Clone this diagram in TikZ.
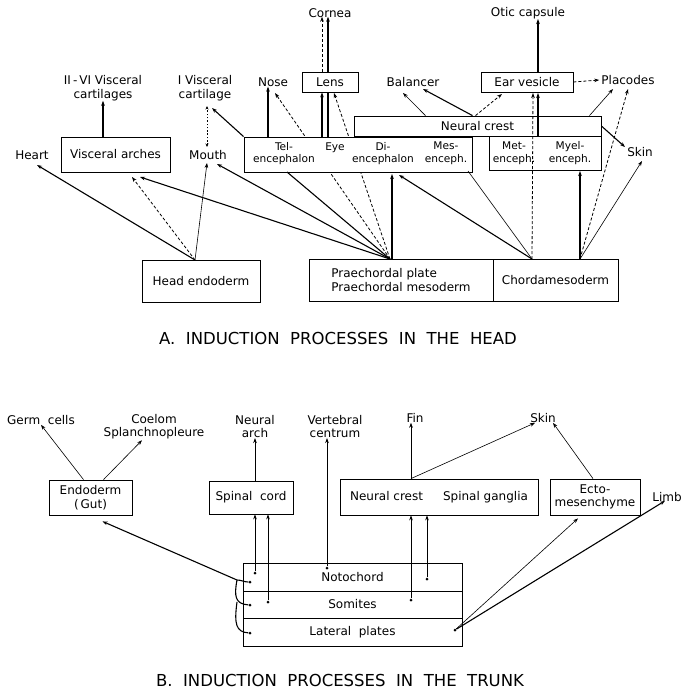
\documentclass[tikz,border=0pt]{standalone}
\usepackage{fontspec}
\setmainfont{DejaVu Sans}
\usetikzlibrary{arrows.meta}
\pgfdeclarelayer{bg}
\pgfsetlayers{bg,main}
\begin{document}
\begin{tikzpicture}[x=1pt,y=-1pt,
  >={Stealth[length=5pt,width=3.6pt]},
  lbl/.style={font=\fontsize{12}{13.5}\selectfont, inner sep=0pt, align=center},
  sml/.style={font=\fontsize{10.6}{12.8}\selectfont, inner sep=0pt, align=center},
  bx/.style={draw, line width=0.8pt, fill=white, inner sep=0pt, align=center,
     font=\fontsize{12}{13.5}\selectfont},
  captxt/.style={font=\fontsize{16.5}{19}\selectfont, inner sep=0pt},
  thk/.style={line width=1.1pt},
  thn/.style={line width=0.6pt},
  dsh/.style={line width=0.8pt, dash pattern=on 3pt off 2pt},
  dtt/.style={line width=0.9pt, dash pattern=on 1.5pt off 1.8pt},
  dotc/.style={circle, fill, inner sep=0pt, minimum size=3pt}
]
\useasboundingbox (0,0) rectangle (682,694);

% ===================== A. HEAD =====================
% text labels
\node[lbl] (heart) at (32,155) {Heart};
\node[lbl] (cart26) at (103,88) {II\,-\,VI Visceral\\cartilages};
\node[lbl] (cart1) at (205,88) {I Visceral\\cartilage};
\node[lbl] (mouth) at (208,155) {Mouth};
\node[lbl] (nose) at (273,82) {Nose};
\node[lbl] (cornea) at (330,13) {Cornea};
\node[lbl] (balancer) at (413,82) {Balancer};
\node[lbl] (otic) at (528,13) {Otic capsule};
\node[lbl] (placodes) at (628,80) {Placodes};
\node[lbl] (skin) at (640,152) {Skin};

% boxes
\node[bx, minimum width=109pt, minimum height=35pt] (va) at (115.5,154.5) {Visceral arches};
\node[bx, minimum width=228pt, minimum height=35pt] (brain) at (358,154.5) {};
\node[bx, minimum width=112pt, minimum height=34pt] (metmy) at (545,153) {};
\node[bx, minimum width=247pt, minimum height=20pt] (nc) at (477.5,126) {Neural crest};
\node[bx, minimum width=56pt, minimum height=20pt] (lens) at (330,82) {Lens};
\node[bx, minimum width=92pt, minimum height=20pt] (ear) at (527,82) {Ear vesicle};
\node[bx, minimum width=118pt, minimum height=42pt] (he) at (201,281) {Head endoderm};
\node[bx, minimum width=184pt, minimum height=42pt, align=left] (pp) at (401,280) {Praechordal plate\\Praechordal mesoderm};
\node[bx, minimum width=125pt, minimum height=42pt] (cm) at (555.5,280) {Chordamesoderm};

% brain box texts
\node[sml] (tel) at (284,153.5) {Tel-\\encephalon};
\node[sml] (eye) at (335,147.5) {Eye};
\node[sml] (di) at (383,153.5) {Di-\\encephalon};
\node[sml] (mes) at (446,153.5) {Mes-\\enceph.};
\node[sml] (met) at (514,153) {Met-\\enceph.};
\node[sml] (myel) at (570,153) {Myel-\\enceph.};

% connector end points
\coordinate (heO) at (195,260);
\coordinate (ppO) at (390,259);
\coordinate (ppV) at (392,259);
\coordinate (cmA) at (532,259);
\coordinate (cmB) at (580,259);
\coordinate (heartT) at (37,165);
\coordinate (vaT1) at (132,177);
\coordinate (vaT2) at (140,177);
\coordinate (mouthT1) at (207,163);
\coordinate (mouthT2) at (217,164);
\coordinate (telB) at (287,172);
\coordinate (noseT2) at (275,93);
\coordinate (lensT2) at (334,93);
\coordinate (diT1) at (392,174);
\coordinate (diT2) at (399,175);
\coordinate (mesB) at (468,171);
\coordinate (earT1) at (533,93);
\coordinate (earT2) at (538,93);
\coordinate (myT) at (580,171);
\coordinate (placT1) at (613,89);
\coordinate (placT2) at (628,89);
\coordinate (skinT1) at (625,147);
\coordinate (skinT2) at (642,161);
\coordinate (cart1T) at (212,108);
\coordinate (balT1) at (403,93);
\coordinate (balT2) at (423,89);
\coordinate (earT3) at (502,94);
\coordinate (mouthTop) at (207,147);
\coordinate (cart1Bot) at (207,106);

% lines hidden behind the brain box
\begin{pgfonlayer}{bg}
\draw[dsh,->] (ppO) -- (noseT2);
\draw[dsh,->] (ppO) -- (lensT2);
\end{pgfonlayer}

% from head endoderm
\draw[thk,->] (heO) -- (heartT);
\draw[dsh,->] (heO) -- (vaT1);
\draw[thn,->] (heO) -- (mouthT1);
% from praechordal plate
\draw[thk,->] (ppO) -- (vaT2);
\draw[thk,->] (ppO) -- (mouthT2);
\draw[thk] (ppO) -- (telB);
\draw[thk,->] (ppV) -- (diT1);
% from chordamesoderm
\draw[thk,->] (cmA) -- (diT2);
\draw[thn] (cmA) -- (mesB);
\draw[thk,->] (cmB) -- (myT);
\draw[dsh,->] (cmB) -- (placT2);
\draw[thn,->] (cmB) -- (skinT2);

% visceral arches / mouth
\draw[thk,->] (va.north -| cart26) -- (cart26.south);
\draw[dtt,{Stealth[length=3.5pt,width=3pt]}-{Stealth[length=3.5pt,width=3pt]}] (mouthTop) -- (cart1Bot);
\draw[thk,->] (brain.north west) -- (cart1T);

% brain to nose / lens / cornea
\draw[thk,->] (brain.north -| nose) ++(-5,0) coordinate (nS) -- (nS |- nose.south);
\draw[thk,->] ([xshift=-8pt]lens.south |- brain.north) -- ([xshift=-8pt]lens.south);
\draw[thk] ([xshift=-2pt]lens.south |- brain.north) -- ([xshift=-2pt]lens.south);
\draw[dsh,->] ([xshift=-8pt]lens.north) -- ([xshift=-8pt,yshift=1pt]cornea.south);
\draw[thk,->] ([xshift=-2pt]lens.north) -- ([xshift=-2pt,yshift=1pt]cornea.south);

% neural crest
\draw[thn,->] ([xshift=-52pt]nc.north) -- (balT1);
\draw[thk,->] ([xshift=-5pt]nc.north) -- (balT2);
\draw[dsh,->] ([xshift=-2pt]nc.north) -- (earT3);
\draw[thn,->] ([xshift=112pt]nc.north) -- (placT1);
\draw[thk,->] (nc.east) -- (skinT1);

% ear vesicle
\draw[dsh,->] (cmA) -- (earT1);
\draw[thk,->] (metmy.north -| earT2) -- (earT2);
\draw[thk,->] ([xshift=11pt]ear.north) -- ([xshift=11pt]ear.north |- otic.south);
\draw[dsh,->] (ear.east) -- ([xshift=-2pt]placodes.west);

\node[captxt] (capA) at (338,338) {A.\ \ INDUCTION\ \ PROCESSES\ \ IN\ \ THE\ \ HEAD};

% ===================== B. TRUNK =====================
\node[lbl] (germ) at (41,420) {Germ\ \ cells};
\node[lbl] (coelom) at (154,426.5) {Coelom\\Splanchnopleure};
\node[lbl] (arch) at (255,426.5) {Neural\\arch};
\node[lbl] (vert) at (335,426.5) {Vertebral\\centrum};
\node[lbl] (fin) at (415,418) {Fin};
\node[lbl] (skinB) at (543,418) {Skin};
\node[lbl] (limb) at (667,497) {Limb};

\node[bx, minimum width=83pt, minimum height=35pt] (endo) at (90.5,497.5) {Endoderm\\(\,Gut)};
\node[bx, minimum width=84pt, minimum height=33pt] (sc) at (251,497.5) {Spinal\ \ cord};
\node[bx, minimum width=198pt, minimum height=36pt] (ncsg) at (439,497) {Neural crest\hspace{20pt}Spinal ganglia};
\node[bx, minimum width=90pt, minimum height=36pt] (ecto) at (595,497) {Ecto-\\mesenchyme};
\node[bx, minimum width=219pt, minimum height=28pt] (noto) at (352.5,577) {Notochord};
\node[bx, minimum width=219pt, minimum height=27pt] (som) at (352.5,604.5) {Somites};
\node[bx, minimum width=219pt, minimum height=28pt] (lat) at (352.5,632) {Lateral\ \ plates};

% dots (start points)
\node[dotc] (dN1) at (255,573) {};
\node[dotc] (dS1) at (268,602) {};
\node[dotc] (dN2) at (327,568) {};
\node[dotc] (dS2) at (411,600) {};
\node[dotc] (dN3) at (427,579) {};
\node[dotc] (dL) at (455,630) {};
\node[dotc] (bN) at (250,582) {};
\node[dotc] (bS) at (250,605) {};
\node[dotc] (bL) at (250,633) {};
\coordinate (brc) at (237,580);

% endoderm
\draw[thn,->] ([xshift=-7pt]endo.north) -- (germ.south);
\draw[thn,->] ([xshift=13pt]endo.north) -- ([xshift=-12pt,yshift=-1pt]coelom.south);
\draw[thk,->] (brc) -- ([xshift=12pt,yshift=-6pt]endo.south);
\draw[thk] (brc) to[out=0,in=180] (bN);
\draw[thk] (brc) .. controls (234,596) and (235,604) .. (bS);
\draw[thk] (237,602) .. controls (234,624) and (236,632) .. (bL);

% spinal cord
\draw[thn,->] (sc.north -| arch) -- (arch.south);
\draw[thn,->] (dN1) -- (dN1 |- sc.south);
\draw[thn,->] (dS1) -- (dS1 |- sc.south);
\draw[thn,->] (dN2) -- (vert.south -| dN2);

% neural crest / spinal ganglia
\draw[thn,->] (dS2) -- (dS2 |- ncsg.south);
\draw[thn,->] (dN3) -- (dN3 |- ncsg.south);
\draw[thn,->] (ncsg.north -| dS2) -- (fin.south -| dS2);
\draw[thn,->] (ncsg.north -| dS2) -- ([xshift=-8pt]skinB.south);
\draw[thn,->] ([xshift=-2pt]ecto.north) -- ([xshift=10pt]skinB.south);

% lateral plates
\draw[thn,->] (dL) -- ([xshift=-17pt,yshift=-3pt]ecto.south);
\draw[thk,->] (dL) -- ([xshift=-2pt,yshift=1pt]limb.south);

\node[captxt] (capB) at (340,680) {B.\ \ INDUCTION\ \ PROCESSES\ \ IN\ \ THE\ \ TRUNK};
\end{tikzpicture}
\end{document}
